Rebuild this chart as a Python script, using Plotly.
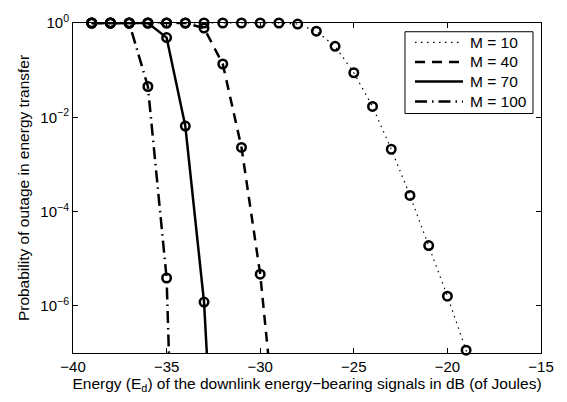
import plotly.graph_objects as go

# Downlink energy E_d in dB (of Joules) and outage probability per antenna count M
energy_m10 = [-39, -38, -37, -36, -35, -34, -33, -32, -31, -30, -29, -28, -27, -26,
              -25, -24, -23, -22, -21, -20, -19, -18]
outage_m10 = [1, 1, 1, 1, 1, 1, 1, 1, 1, 1, 1, 0.95, 0.67, 0.32,
              0.088, 0.017, 2.1e-3, 2.2e-4, 1.9e-5, 1.6e-6, 1.15e-7, 6e-9]

energy_m40 = [-39, -38, -37, -36, -35, -34, -33, -32, -31, -30, -29]
outage_m40 = [1, 1, 1, 1, 1, 1, 0.78, 0.135, 2.3e-3, 4.7e-6, 5e-10]

energy_m70 = [-39, -38, -37, -36, -35, -34, -33, -32]
outage_m70 = [1, 1, 1, 1, 0.49, 6.5e-3, 1.2e-6, 6e-14]

energy_m100 = [-39, -38, -37, -36, -35, -34]
outage_m100 = [1, 1, 1, 0.045, 3.9e-6, 4e-19]

series_labels = ["M = 10", "M = 40", "M = 70", "M = 100"]

x_ticks = [-40, -35, -30, -25, -20, -15]
x_tick_text = ["−40", "−35", "−30", "−25", "−20", "−15"]
y_ticks = [1e-6, 1e-4, 1e-2, 1]
y_tick_text = ["10<sup>−6</sup>", "10<sup>−4</sup>", "10<sup>−2</sup>", "10<sup>0</sup>"]

Y_MIN = 1e-7
FONT = "Liberation Sans, Arial, Helvetica, sans-serif"
TEXT_SIZE = 15.5

styles = [
    dict(width=1.2, dash="1.5px,4.5px"),
    dict(width=2.5, dash="10px,7px"),
    dict(width=2.5, dash="solid"),
    dict(width=2.5, dash="12px,5px,1.5px,5px"),
]

fig = go.Figure()
series = [(energy_m10, outage_m10), (energy_m40, outage_m40),
          (energy_m70, outage_m70), (energy_m100, outage_m100)]

for (xs, ys), label, st in zip(series, series_labels, styles):
    # curve (clipped to the plot area)
    fig.add_trace(go.Scatter(
        x=xs, y=ys, mode="lines", name=label, showlegend=False,
        line=dict(color="black", width=st["width"], dash=st["dash"]),
    ))
    # open circles at each simulated point inside the y range
    mx = [x for x, y in zip(xs, ys) if y >= Y_MIN * 0.99]
    my = [y for y in ys if y >= Y_MIN * 0.99]
    fig.add_trace(go.Scatter(
        x=mx, y=my, mode="markers", showlegend=False, cliponaxis=False,
        marker=dict(symbol="circle-open", size=8.5, color="black",
                    line=dict(color="black", width=2.5)),
    ))

# Legend box in the upper right corner: line samples and labels
box_x0, box_x1 = 0.7094, 0.9829
box_y0, box_y1 = 0.7257, 0.9735
sample_x0, sample_x1 = 0.7308, 0.8333
label_x = 0.8440
row_y = [0.941, 0.882, 0.823, 0.762]

fig.add_shape(type="rect", xref="paper", yref="paper",
              x0=box_x0, x1=box_x1, y0=box_y0, y1=box_y1,
              line=dict(color="black", width=1), fillcolor="white", layer="above")
for label, st, ry in zip(series_labels, styles, row_y):
    fig.add_shape(type="line", xref="paper", yref="paper",
                  x0=sample_x0, x1=sample_x1, y0=ry, y1=ry,
                  line=dict(color="black", width=st["width"], dash=st["dash"]))
    fig.add_annotation(x=label_x, y=ry, xref="paper", yref="paper",
                       text=label, showarrow=False, xanchor="left", yanchor="middle",
                       font=dict(family=FONT, size=TEXT_SIZE, color="black"))

axis_common = dict(
    showline=True, linecolor="black", linewidth=1, mirror="ticks",
    ticks="inside", ticklen=5, tickwidth=1, tickcolor="black",
    showgrid=False, zeroline=False,
    tickfont=dict(family=FONT, size=15, color="black"),
)

fig.update_layout(
    width=567, height=402,
    margin=dict(l=73, r=26, t=14, b=49),
    paper_bgcolor="white", plot_bgcolor="white",
    font=dict(family=FONT, size=TEXT_SIZE, color="black"),
    showlegend=False,
    xaxis=dict(
        range=[-40, -15], tickvals=x_ticks, ticktext=x_tick_text,
        title=dict(text="Energy (E<sub>d</sub>) of the downlink energy−bearing signals in dB (of Joules)",
                   font=dict(family=FONT, size=TEXT_SIZE), standoff=3),
        **axis_common,
    ),
    yaxis=dict(
        type="log", range=[-7, 0], tickvals=y_ticks, ticktext=y_tick_text,
        title=dict(text="Probability of outage in energy transfer",
                   font=dict(family=FONT, size=TEXT_SIZE), standoff=6),
        **axis_common,
    ),
)

fig.write_html("out.html")
